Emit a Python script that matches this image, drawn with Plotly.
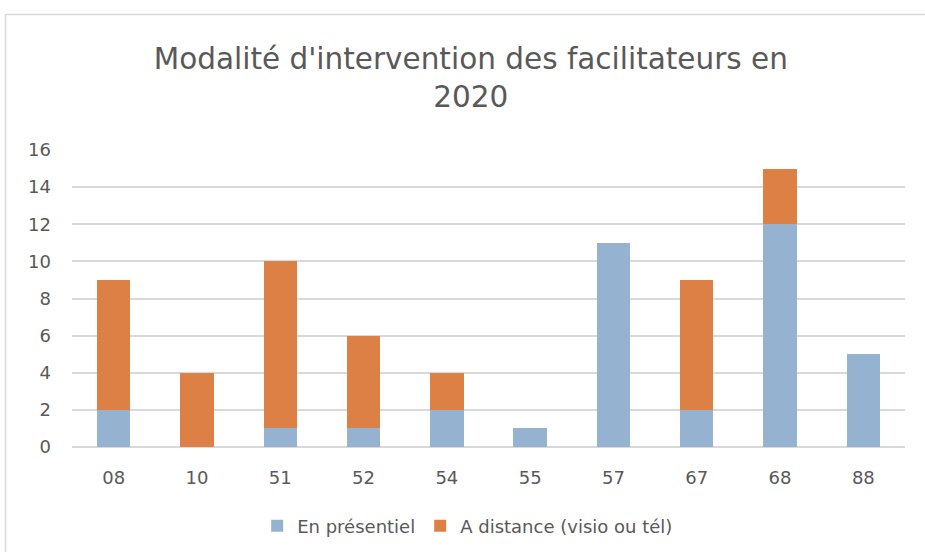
import plotly.graph_objects as go

categories = ["08", "10", "51", "52", "54", "55", "57", "67", "68", "88"]
presentiel = [2, 0, 1, 1, 2, 1, 11, 2, 12, 5]
distance = [7, 4, 9, 5, 2, 0, 0, 7, 3, 0]
y_ticks = [0, 2, 4, 6, 8, 10, 12, 14, 16]

W, H = 925, 552
L, R, T, B = 72, 20, 150, 105
pw, ph = W - L - R, H - T - B

FONT = "DejaVu Sans"
GREY = "#595959"

fig = go.Figure()
fig.add_trace(go.Bar(name="En présentiel", x=categories, y=presentiel,
                     marker=dict(color="#95b3d0", line=dict(width=0))))
fig.add_trace(go.Bar(name="A distance (visio ou tél)", x=categories, y=distance,
                     marker=dict(color="#dd8046", line=dict(width=0))))

def px_x(p):
    return (p - L) / pw

def px_y(p):
    return (H - B - p) / ph

shapes = [
    dict(type="line", xref="paper", yref="paper", x0=px_x(5), x1=px_x(W + 5), y0=px_y(14.5), y1=px_y(14.5),
         line=dict(color="#d9d9d9", width=1.5)),
    dict(type="line", xref="paper", yref="paper", x0=px_x(5.5), x1=px_x(5.5), y0=px_y(14), y1=px_y(H + 5),
         line=dict(color="#d9d9d9", width=1.5)),
]

fig.update_layout(
    barmode="stack",
    bargap=0.6,
    width=W, height=H,
    margin=dict(l=L, r=R, t=T, b=B, autoexpand=False),
    paper_bgcolor="white",
    plot_bgcolor="white",
    font=dict(family=FONT, color=GREY, size=18),
    title=dict(text="Modalité d'intervention des facilitateurs en<br>2020",
               x=0.509, xref="container", xanchor="center",
               y=1 - 69 / H, yref="container", yanchor="middle",
               font=dict(family=FONT, size=29.5, color=GREY)),
    xaxis=dict(showgrid=False, showline=False, ticks="", ticklabelstandoff=18, automargin=False,
               tickfont=dict(size=18, color=GREY)),
    yaxis=dict(range=[0, 16], tickvals=y_ticks, showgrid=True, gridcolor="#d9d9d9", gridwidth=1.5,
               zeroline=True, zerolinecolor="#d9d9d9", zerolinewidth=1.5, showline=False, ticks="",
               ticklabelstandoff=20, automargin=False, tickfont=dict(size=18, color=GREY)),
    legend=dict(orientation="h", x=0.475, xanchor="center", y=-(526 - (H - B)) / ph, yanchor="middle",
                font=dict(size=18, color=GREY), traceorder="normal", itemwidth=30),
    shapes=shapes,
)

fig.write_html("out.html", post_script="document.body.style.margin='0';",
               config={"displayModeBar": False})
